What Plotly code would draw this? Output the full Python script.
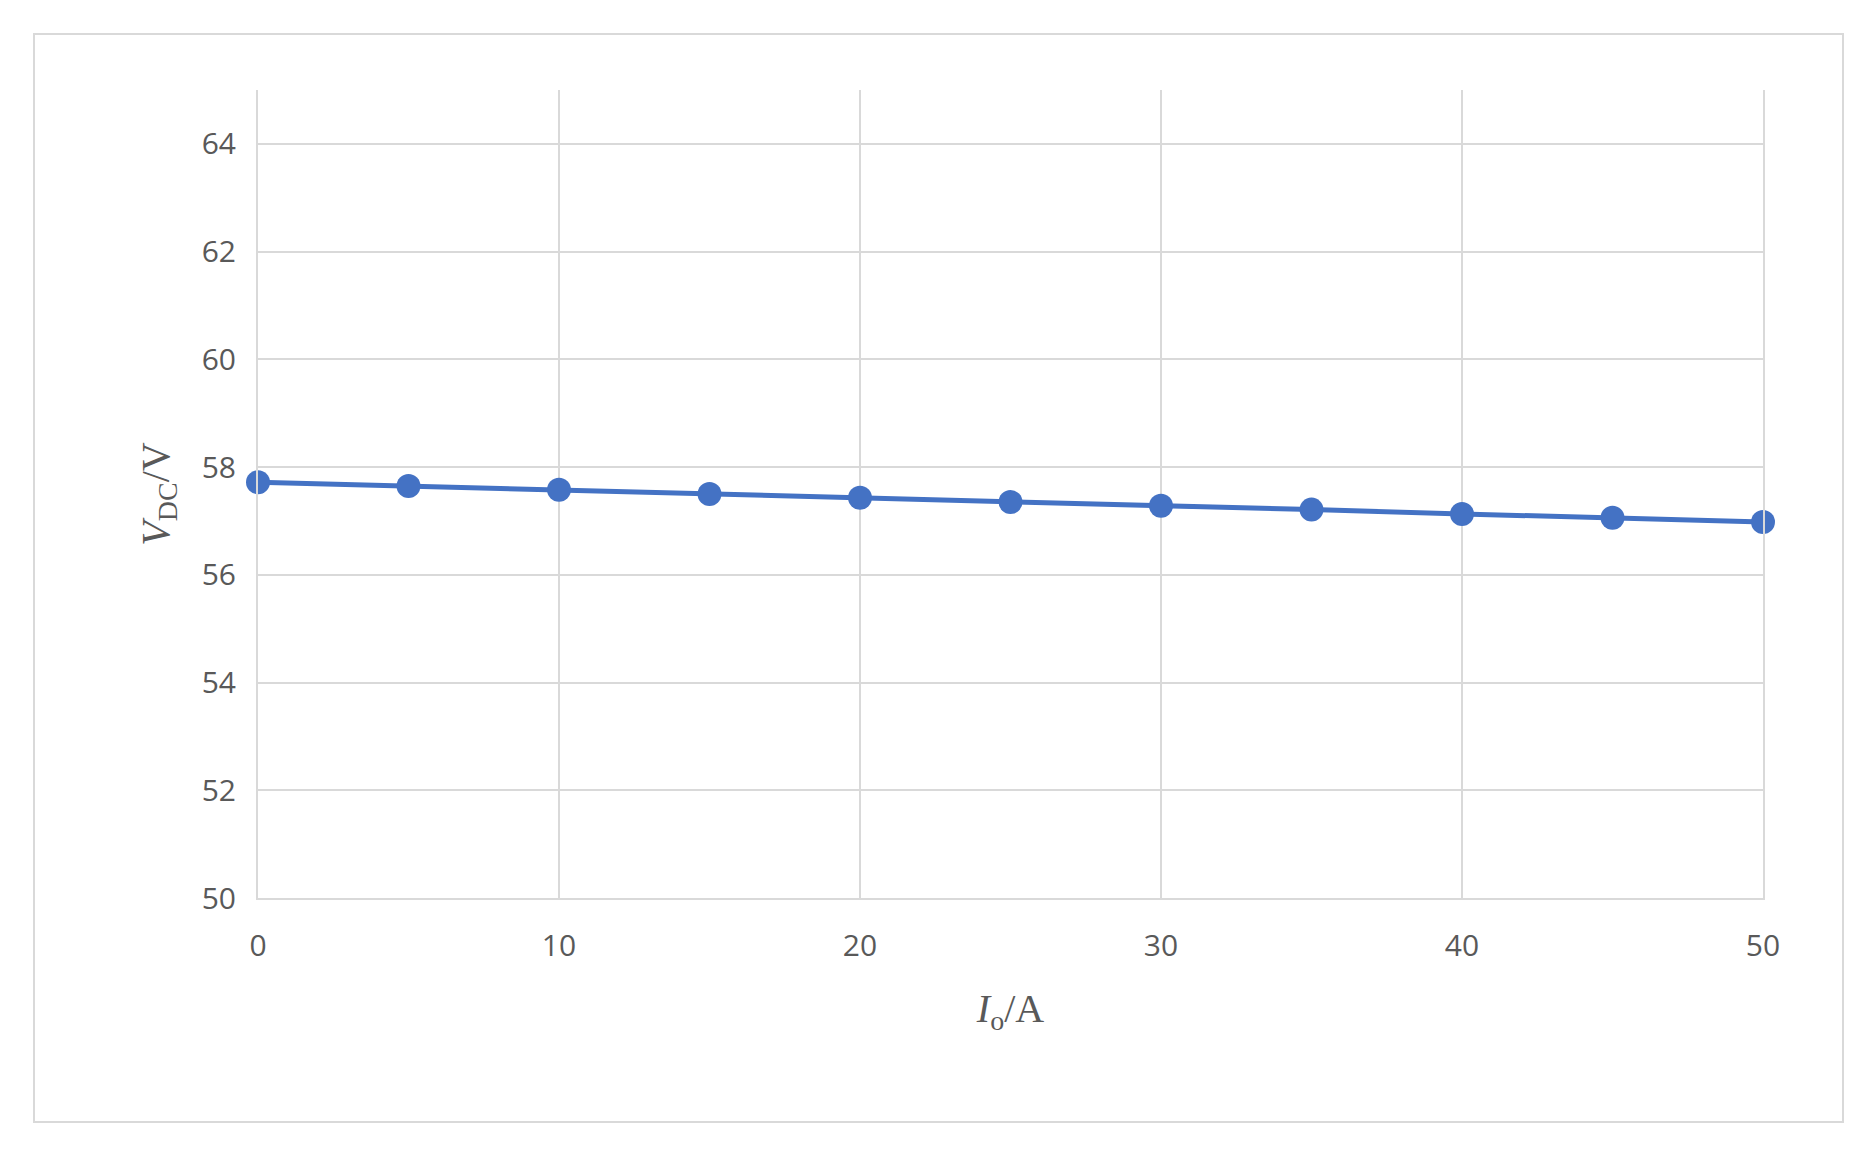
import plotly.graph_objects as go

current_A = [0, 5, 10, 15, 20, 25, 30, 35, 40, 45, 50]
vdc_V = [57.72, 57.65, 57.58, 57.50, 57.43, 57.35, 57.28, 57.21, 57.13, 57.06, 56.98]

W, H = 1875, 1152
L, R, T, B = 250, 120, 82, 262
pw, ph = W - L - R, H - T - B
fig = go.Figure(go.Scatter(x=current_A, y=vdc_V, mode="lines+markers", cliponaxis=False,
                           line=dict(color="#4472C4", width=5),
                           marker=dict(color="#4472C4", size=24)))
tickfont = dict(family="Open Sans, Liberation Sans", size=30, color="#595959")
fig.update_layout(
    width=W, height=H, paper_bgcolor="white", plot_bgcolor="white",
    margin=dict(l=L, r=R, t=T, b=B), showlegend=False,
    xaxis=dict(range=[0, 50], dtick=10, showgrid=True, gridcolor="#D9D9D9", gridwidth=2,
               zeroline=False, showline=True, linecolor="#D9D9D9", linewidth=2,
               tickfont=tickfont, ticks="", ticklabelstandoff=20,
               title=dict(text="<i>I</i><sub>o</sub>/A", standoff=30,
                          font=dict(family="Liberation Serif", size=40, color="#595959"))),
    yaxis=dict(range=[50, 65], tickvals=[50, 52, 54, 56, 58, 60, 62, 64],
               showgrid=True, gridcolor="#D9D9D9", gridwidth=2, zeroline=False,
               showline=True, mirror=True, linecolor="#D9D9D9", linewidth=2,
               tickfont=tickfont, ticks="", ticklabelstandoff=14,
               title=dict(text="<i>V</i><sub>DC</sub>/V", standoff=20,
                          font=dict(family="Liberation Serif", size=40, color="#595959"))),
    shapes=[dict(type="rect", xref="paper", yref="paper",
                 x0=(26 - L) / pw, x1=(1835 - L) / pw,
                 y0=(H - B - 1114) / ph, y1=(H - B - 26) / ph,
                 line=dict(color="#D9D9D9", width=2))],
)
fig.write_html("out.html")
